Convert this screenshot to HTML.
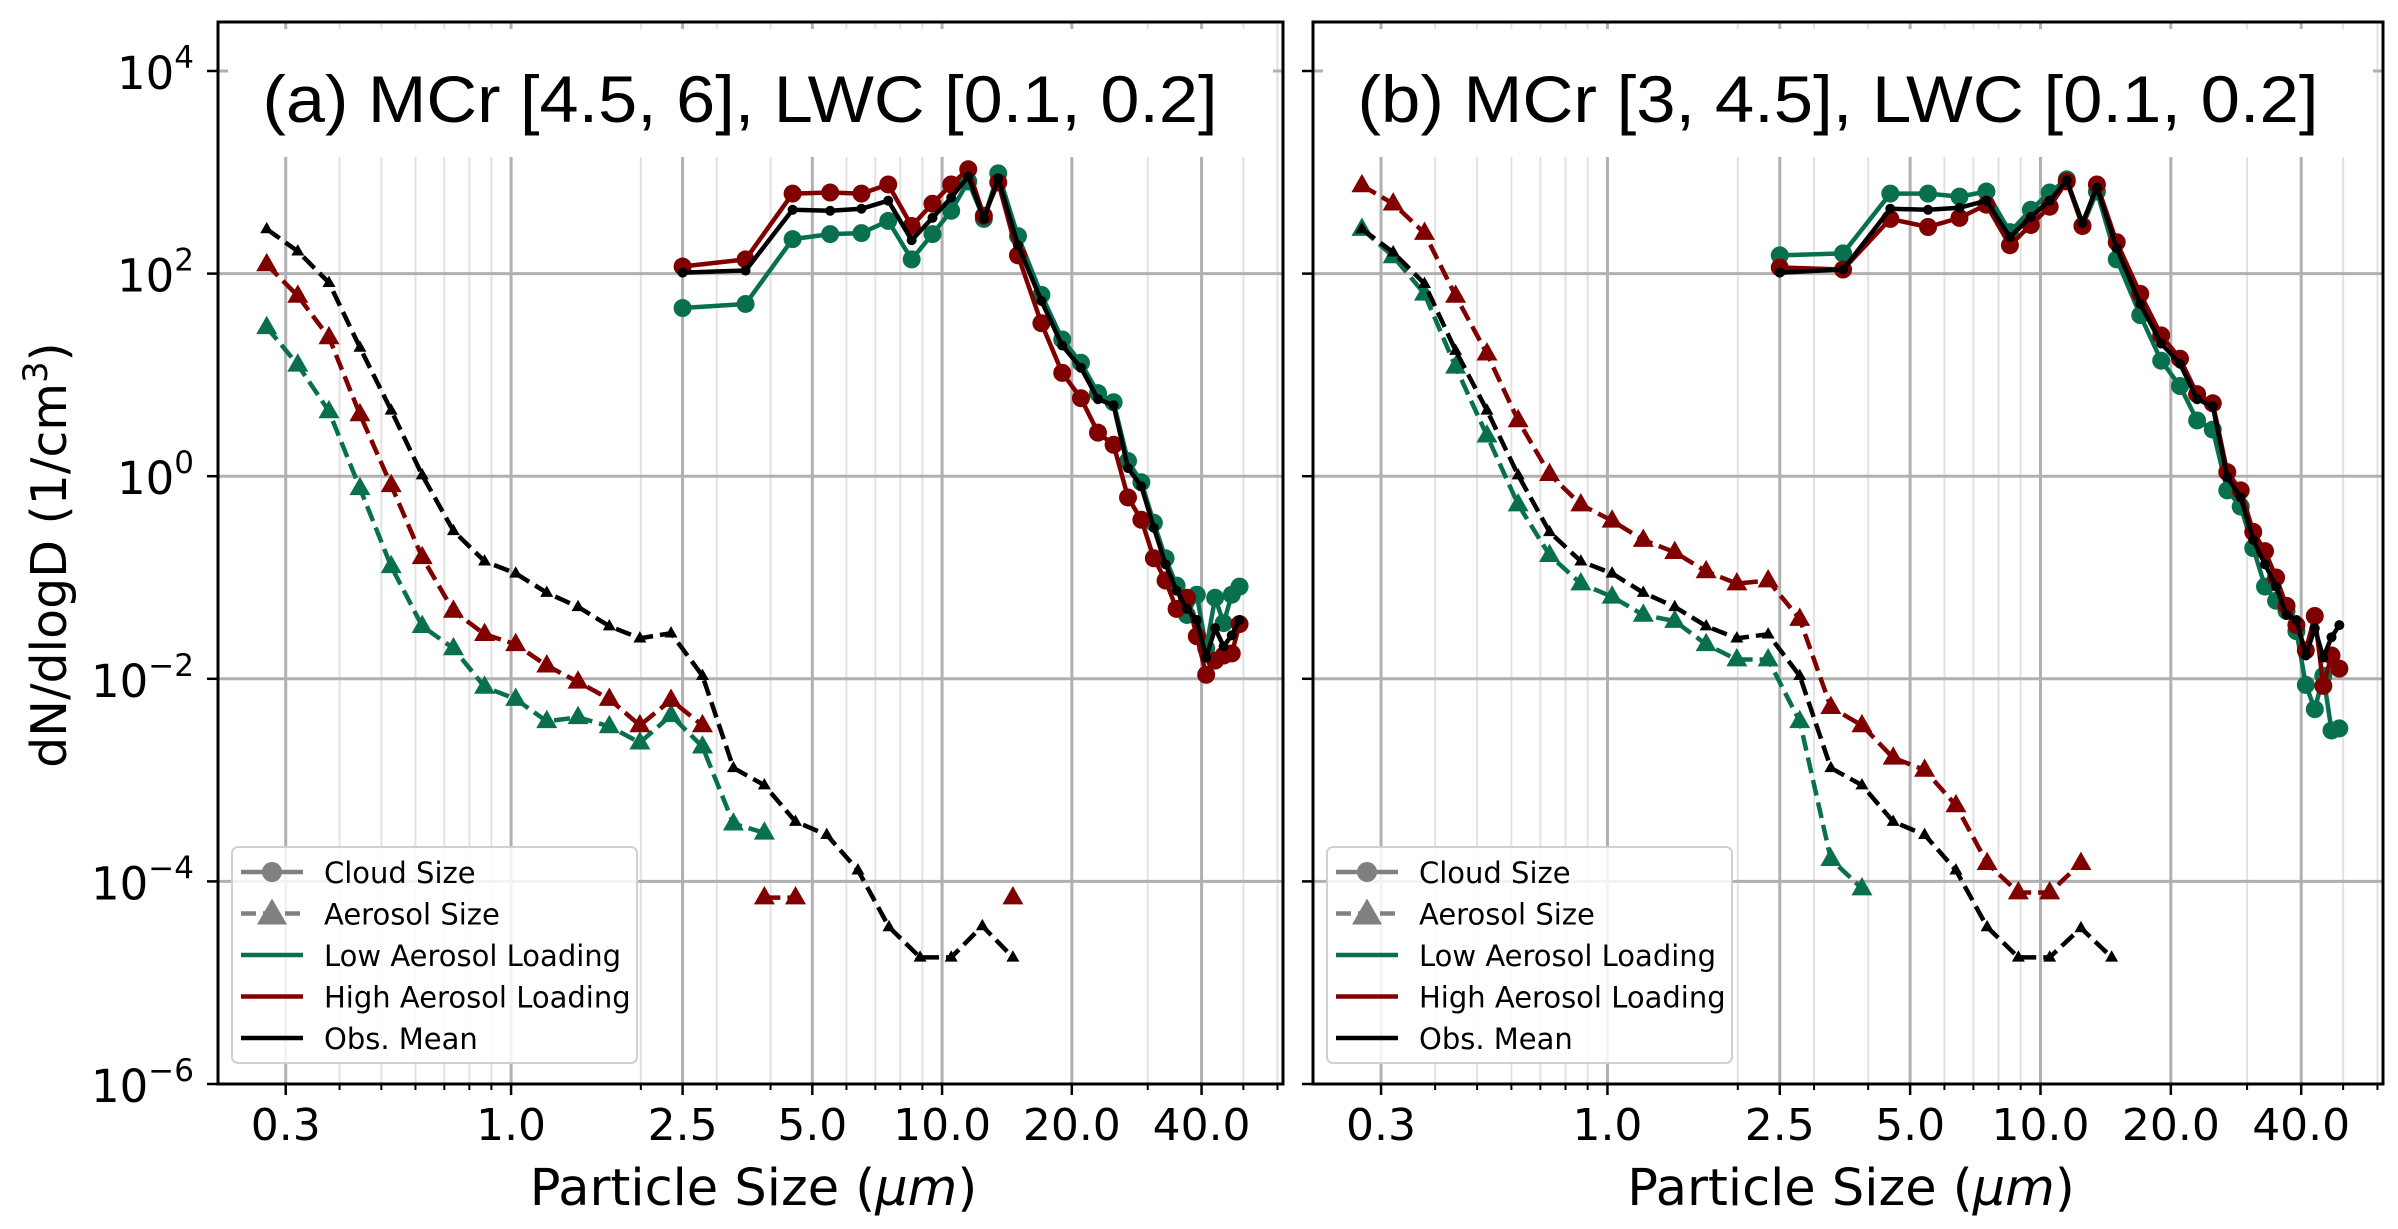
<!DOCTYPE html>
<html><head><meta charset="utf-8"><title>Particle size distributions</title>
<style>
html,body{margin:0;padding:0;background:#fff;}
svg{display:block;}
text{font-family:"DejaVu Sans","Liberation Sans",sans-serif;fill:#000;}
.title{font-family:"Liberation Sans","DejaVu Sans",sans-serif;}
</style></head>
<body>
<svg id="chart" xmlns="http://www.w3.org/2000/svg" width="2398" height="1229" viewBox="0 0 2398 1229">
<rect x="0" y="0" width="2398" height="1229" fill="#fff"/>
<text transform="translate(66,555) rotate(-90)" text-anchor="middle" font-size="49">dN/dlogD (1/cm<tspan dy="-19" font-size="34">3</tspan><tspan dy="19">)</tspan></text>
</svg>
<script>
// ---- data (values are log10 of dN/dlogD) ----
const aerosolSizes = [0.271,0.320,0.378,0.446,0.527,0.622,0.735,0.868,1.025,1.21,1.43,1.69,1.99,2.35,2.78,3.28,3.87,4.57,5.40,6.38,7.53,8.89,10.5,12.4,14.6];
const cloudSizes = [2.5,3.5,4.5,5.5,6.5,7.5,8.5,9.5,10.5,11.5,12.5,13.5,15,17,19,21,23,25,27,29,31,33,35,37,39,41,43,45,47,49];
const xTickValues = [0.3,1.0,2.5,5.0,10.0,20.0,40.0];
const xTickLabels = ["0.3","1.0","2.5","5.0","10.0","20.0","40.0"];
const yTickExponents = [4,2,0,-2,-4,-6];
const yTickLabels = ["4","2","0","\u22122","\u22124","\u22126"];
const panelTitles = ["(a) MCr [4.5, 6], LWC [0.1, 0.2]","(b) MCr [3, 4.5], LWC [0.1, 0.2]"];

const aAeroLow  = [1.47,1.10,0.64,-0.12,-0.89,-1.48,-1.70,-2.08,-2.20,-2.42,-2.38,-2.47,-2.63,-2.36,-2.67,-3.43,-3.52,null,null,null,null,null,null,null,null];
const aAeroHigh = [2.09,1.78,1.37,0.61,-0.09,-0.80,-1.33,-1.56,-1.66,-1.87,-2.03,-2.20,-2.46,-2.21,-2.46,null,-4.16,-4.16,null,null,null,null,null,null,-4.16];
const aAeroMean = [2.44,2.22,1.91,1.27,0.65,0.01,-0.54,-0.84,-0.96,-1.15,-1.29,-1.48,-1.60,-1.55,-1.97,-2.88,-3.05,-3.41,-3.54,-3.89,-4.45,-4.75,-4.75,-4.44,-4.75];
const aCloudLow  = [1.66,1.70,2.34,2.39,2.40,2.52,2.14,2.39,2.62,2.91,2.54,2.99,2.37,1.79,1.35,1.12,0.82,0.73,0.15,-0.06,-0.46,-0.81,-1.08,-1.37,-1.17,-1.70,-1.20,-1.45,-1.17,-1.09];
const aCloudHigh = [2.07,2.14,2.79,2.80,2.79,2.88,2.47,2.69,2.88,3.03,2.57,2.90,2.18,1.51,1.02,0.77,0.43,0.31,-0.21,-0.43,-0.81,-1.03,-1.31,-1.20,-1.58,-1.96,-1.82,-1.77,-1.75,-1.46];
const aCloudMean = [2.01,2.03,2.63,2.62,2.64,2.72,2.33,2.55,2.75,2.96,2.54,2.94,2.28,1.73,1.29,1.07,0.76,0.70,0.08,-0.10,-0.51,-0.87,-1.13,-1.31,-1.42,-1.79,-1.50,-1.68,-1.57,-1.42];

const bAeroLow  = [2.44,2.17,1.80,1.08,0.40,-0.28,-0.78,-1.06,-1.19,-1.37,-1.43,-1.66,-1.81,-1.81,-2.42,-3.78,-4.07,null,null,null,null,null,null,null,null];
const bAeroHigh = [2.87,2.69,2.40,1.78,1.21,0.55,0.02,-0.28,-0.44,-0.63,-0.75,-0.94,-1.06,-1.03,-1.41,-2.28,-2.46,-2.78,-2.90,-3.25,-3.82,-4.11,-4.11,-3.82,null];
const bAeroMean = [2.44,2.21,1.90,1.24,0.65,0.01,-0.55,-0.84,-0.96,-1.15,-1.29,-1.48,-1.60,-1.56,-1.97,-2.88,-3.05,-3.41,-3.54,-3.89,-4.45,-4.75,-4.75,-4.46,-4.75];
const bCloudLow  = [2.18,2.20,2.79,2.79,2.76,2.81,2.41,2.63,2.80,2.93,2.47,2.81,2.14,1.59,1.14,0.89,0.55,0.46,-0.14,-0.30,-0.71,-1.09,-1.23,-1.33,-1.53,-2.06,-2.30,-1.97,-2.51,-2.49];
const bCloudHigh = [2.06,2.04,2.54,2.46,2.55,2.68,2.28,2.48,2.66,2.91,2.47,2.88,2.31,1.80,1.39,1.16,0.81,0.72,0.04,-0.14,-0.55,-0.74,-1.00,-1.28,-1.47,-1.72,-1.38,-2.07,-1.77,-1.90];
const bCloudMean = [2.01,2.04,2.64,2.63,2.65,2.72,2.36,2.56,2.72,2.92,2.50,2.85,2.25,1.70,1.31,1.11,0.76,0.69,-0.01,-0.21,-0.63,-0.87,-1.09,-1.37,-1.42,-1.77,-1.50,-1.79,-1.59,-1.47];

const GREEN = "#08704f", RED = "#800000", BLACK = "#000000";
const NS = "http://www.w3.org/2000/svg";
const svg = document.getElementById("chart");

function mk(tag, attrs, parent) {
  const e = document.createElementNS(NS, tag);
  for (const k in attrs) e.setAttribute(k, attrs[k]);
  (parent || svg).appendChild(e);
  return e;
}

const Y_TOP = 22, Y_BOT = 1084, DEC = 101.3;
function yScale(e) { return Y_BOT - (e + 6) * DEC; }

function drawPanel(p) {
  const L = p.left, R = p.right;
  const LMIN = -0.680, LMAX = 1.791;
  const xScale = v => L + (Math.log10(v) - LMIN) / (LMAX - LMIN) * (R - L);
  const g = mk("g", {});
  
  

  const minors = [];
  [0.1, 1, 10].forEach(d => { for (let m = 2; m <= 9; m++) { const v = m * d; if (v * 1.0001 > Math.pow(10, LMIN) && v < Math.pow(10, LMAX) && xTickValues.indexOf(v) < 0) minors.push(v); } });
  minors.forEach(v => {
    const l = mk("line", {x1: xScale(v), x2: xScale(v), y1: Y_TOP, y2: Y_BOT, stroke: "#e2e2e2", "stroke-width": 2}, g);
    
    
    const t = mk("line", {x1: xScale(v), x2: xScale(v), y1: Y_BOT, y2: Y_BOT + 6, stroke: "#000", "stroke-width": 2}, g);
    
    
  });
  xTickValues.forEach((v, i) => {
    const l = mk("line", {x1: xScale(v), x2: xScale(v), y1: Y_TOP, y2: Y_BOT, stroke: "#b0b0b0", "stroke-width": 3}, g);
    
    
    const t = mk("line", {x1: xScale(v), x2: xScale(v), y1: Y_BOT, y2: Y_BOT + 11, stroke: "#000", "stroke-width": 2.5}, g);
    
    
    const tx = mk("text", {x: xScale(v), y: Y_BOT + 56, "text-anchor": "middle", "font-size": 44}, g);
    tx.textContent = xTickLabels[i];
    
    
  });
  yTickExponents.forEach((e, i) => {
    const y = yScale(e);
    const l = mk("line", {x1: L, x2: R, y1: y, y2: y, stroke: "#b0b0b0", "stroke-width": 3}, g);
    
    
    const t = mk("line", {x1: L - 11, x2: L, y1: y, y2: y, stroke: "#000", "stroke-width": 2.5}, g);
    
    
    if (p.yLabels) {
      const tx = mk("text", {x: L - 24, y: y + 18, "text-anchor": "end", "font-size": 45}, g);
      
      
      const a = mk("tspan", {}, tx); a.textContent = "10";
      const b = mk("tspan", {dy: -21, "font-size": 31}, tx); b.textContent = yTickLabels[i];
    }
  });

  const tb = mk("rect", {x: L + 10, y: 29, width: R - L - 20, height: 128, fill: "#fff"}, g);
  
  
  const tt = mk("text", {x: p.titleX, y: 122, "text-anchor": "middle", "font-size": 66, "class": "title", textLength: p.titleLen, lengthAdjust: "spacingAndGlyphs"}, g);
  tt.textContent = p.title;
  
  

  function series(xs, vals, color, dashed, marker, size, name) {
    let segs = [], cur = [];
    vals.forEach((v, i) => {
      if (v === null || v === undefined) { if (cur.length) segs.push(cur); cur = []; }
      else cur.push([xScale(xs[i]), yScale(v)]);
    });
    if (cur.length) segs.push(cur);
    segs.forEach(s => {
      if (s.length < 2) return;
      const pl = mk("polyline", {points: s.map(q => q.join(",")).join(" "), fill: "none", stroke: color, "stroke-width": 4.5, "stroke-linejoin": "round", "stroke-dasharray": dashed ? "16,7" : "none"}, g);
      
      
    });
    vals.forEach((v, i) => {
      if (v === null || v === undefined) return;
      const cx = xScale(xs[i]), cy = yScale(v);
      let m;
      if (marker === "o") m = mk("circle", {cx: cx, cy: cy, r: size, fill: color}, g);
      else m = mk("polygon", {points: `${cx},${cy - size * 1.1} ${cx - size},${cy + size * 0.65} ${cx + size},${cy + size * 0.65}`, fill: color}, g);
      
      
    });
  }
  series(aerosolSizes, p.aeroLow, GREEN, true, "^", 10.5, "aerosol-low");
  series(aerosolSizes, p.aeroHigh, RED, true, "^", 10.5, "aerosol-high");
  series(aerosolSizes, p.aeroMean, BLACK, true, "^", 6.5, "aerosol-mean");
  series(cloudSizes, p.cloudLow, GREEN, false, "o", 9, "cloud-low");
  series(cloudSizes, p.cloudHigh, RED, false, "o", 9, "cloud-high");
  series(cloudSizes, p.cloudMean, BLACK, false, "o", 5, "cloud-mean");

  const lx = L + 14, ly = 847;
  const lg = mk("g", {}, g);
  
  
  mk("rect", {x: lx, y: ly, width: 405, height: 216, rx: 6, fill: "#fff", "fill-opacity": 0.85, stroke: "#d0d0d0", "stroke-width": 2}, lg);
  const labels = ["Cloud Size", "Aerosol Size", "Low Aerosol Loading", "High Aerosol Loading", "Obs. Mean"];
  labels.forEach((lab, i) => {
    const y = ly + 25 + i * 41.5, hx = lx + 9, hx2 = lx + 71, hc = lx + 40;
    const e = mk("g", {}, lg);
    
    
    if (i === 0) { mk("line", {x1: hx, x2: hx2, y1: y, y2: y, stroke: "#808080", "stroke-width": 4.5}, e); mk("circle", {cx: hc, cy: y, r: 10, fill: "#808080"}, e); }
    else if (i === 1) { mk("line", {x1: hx, x2: hx2, y1: y, y2: y, stroke: "#808080", "stroke-width": 4.5, "stroke-dasharray": "15,7"}, e); mk("polygon", {points: `${hc},${y - 15} ${hc - 15},${y + 11} ${hc + 15},${y + 11}`, fill: "#808080"}, e); }
    else { const c = [GREEN, RED, BLACK][i - 2]; mk("line", {x1: hx, x2: hx2, y1: y, y2: y, stroke: c, "stroke-width": 4.5}, e); }
    const t = mk("text", {x: lx + 92, y: y + 11, "font-size": 29}, e);
    t.textContent = lab;
  });

  const fr = mk("rect", {x: L, y: Y_TOP, width: R - L, height: Y_BOT - Y_TOP, fill: "none", stroke: "#000", "stroke-width": 3}, g);
  
  
  const xl = mk("text", {x: (L + R) / 2 + 3, y: 1205, "text-anchor": "middle", "font-size": 51}, g);
  
  
  const s1 = mk("tspan", {}, xl); s1.textContent = "Particle Size (";
  const s2 = mk("tspan", {"font-style": "italic"}, xl); s2.textContent = "\u03bcm";
  const s3 = mk("tspan", {}, xl); s3.textContent = ")";
}

drawPanel({name: "panel-a", left: 218, right: 1283, yLabels: true, title: panelTitles[0], titleX: 740, titleLen: 955,
  aeroLow: aAeroLow, aeroHigh: aAeroHigh, aeroMean: aAeroMean, cloudLow: aCloudLow, cloudHigh: aCloudHigh, cloudMean: aCloudMean});
drawPanel({name: "panel-b", left: 1313, right: 2383, yLabels: false, title: panelTitles[1], titleX: 1838, titleLen: 961,
  aeroLow: bAeroLow, aeroHigh: bAeroHigh, aeroMean: bAeroMean, cloudLow: bCloudLow, cloudHigh: bCloudHigh, cloudMean: bCloudMean});
</script>
</body></html>
